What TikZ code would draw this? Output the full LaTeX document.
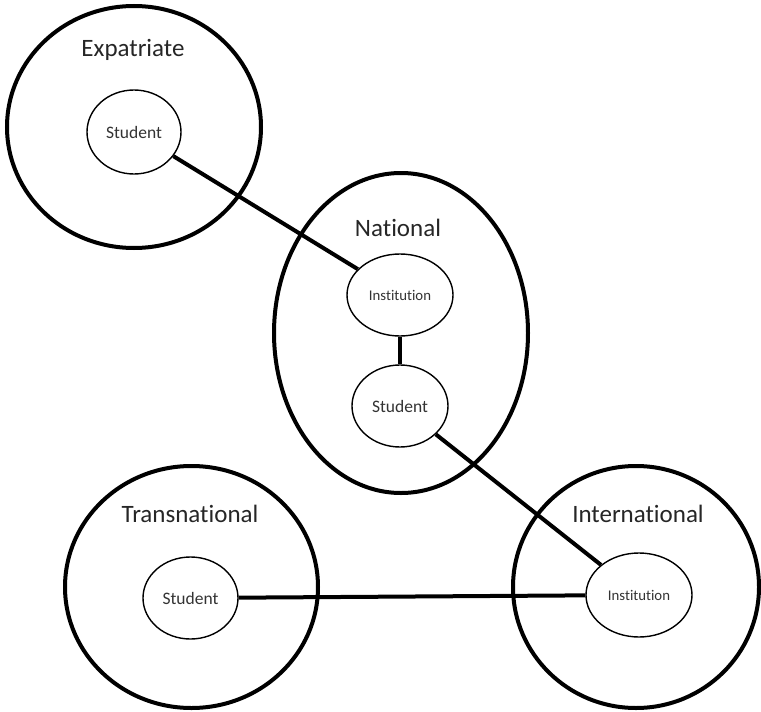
\documentclass[tikz,border=0pt]{standalone}
\usepackage{fontspec}
\setmainfont{Carlito}[Ligatures=NoCommon,RawFeature={-liga,-dlig,-clig}]
\usetikzlibrary{shapes.geometric}
\begin{document}
\begin{tikzpicture}[x=1pt,y=-1pt,
  outer/.style={draw,ellipse,line width=4pt,inner sep=0pt},
  inner/.style={draw,ellipse,line width=1.4pt,inner sep=0pt,fill=white,text=black!80},
  title/.style={text=black!85,font=\fontsize{25}{30}\selectfont,inner sep=0pt},
  stud/.style={font=\fontsize{17.5}{20}\selectfont},
  inst/.style={font=\fontsize{14.8}{18}\selectfont},
  link/.style={line width=4pt}]
\useasboundingbox (0,0) rectangle (761,712);
% outer groups
\node[outer,minimum width=254pt,minimum height=242pt] (expO) at (134,127) {};
\node[outer,minimum width=254pt,minimum height=320pt] (natO) at (401,333) {};
\node[outer,minimum width=253pt,minimum height=242pt] (traO) at (191.5,587) {};
\node[outer,minimum width=246pt,minimum height=242pt] (intO) at (636,587) {};
% titles
\node[title] (expT) at (133,50) {Expatriate};
\node[title] (natT) at (398,228) {National};
\node[title] (traT) at (190,514) {Transnational};
\node[title] (intT) at (638,514) {International};
% centres of the inner nodes
\coordinate (eS) at (134,132);
\coordinate (nI) at (400,295);
\coordinate (nS) at (400,406);
\coordinate (tS) at (190.5,598);
\coordinate (iI) at (639,595);
% inner nodes
\node[inner,stud,minimum width=94pt,minimum height=84pt] (expS) at (eS) {Student};
\node[inner,inst,minimum width=106pt,minimum height=82pt] (natI) at (nI) {Institution};
\node[inner,stud,minimum width=96pt,minimum height=82pt] (natS) at (nS) {Student};
\node[inner,stud,minimum width=95pt,minimum height=82pt] (traS) at (tS) {Student};
\node[inner,inst,minimum width=106pt,minimum height=84pt] (intI) at (iI) {Institution};
% links
\draw[link] (expS) -- (natI);
\draw[link] (natI) -- (natS);
\draw[link] (natS) -- (intI);
\draw[link] (traS) -- (intI);
\end{tikzpicture}
\end{document}
